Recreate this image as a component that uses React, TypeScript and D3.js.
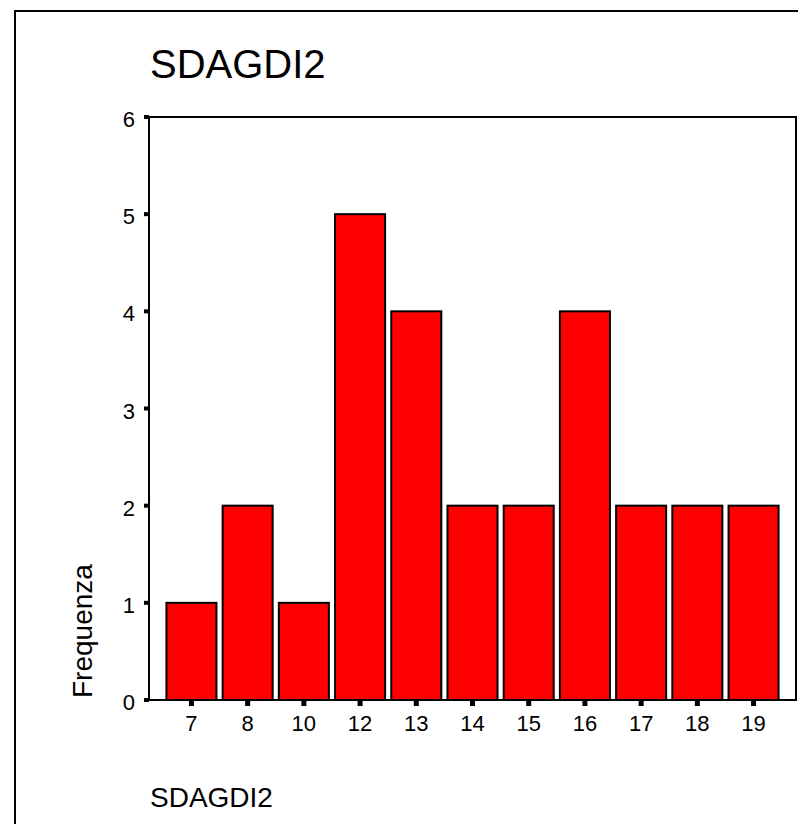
import React from "react";
import * as d3 from "d3";

const categories: string[] = ["7", "8", "10", "12", "13", "14", "15", "16", "17", "18", "19"];
const frequencies: number[] = [1, 2, 1, 5, 4, 2, 2, 4, 2, 2, 2];
const yTicks: number[] = [0, 1, 2, 3, 4, 5, 6];
const titleText = "SDAGDI2";
const xAxisLabel = "SDAGDI2";
const yAxisLabel = "Frequenza";

const W = 798;
const H = 824;
const plot = { left: 149, top: 117, right: 796, bottom: 700 };
const FONT = "'Liberation Sans', Arial, Helvetica, sans-serif";

export default function App() {
  const x = d3
    .scaleBand<string>()
    .domain(categories)
    .range([plot.left, plot.right])
    .paddingInner(0.11)
    .paddingOuter(0.31)
    .align(0.5);
  const y = d3.scaleLinear().domain([0, 6]).range([plot.bottom, plot.top]);

  return (
    <svg
      width={W}
      height={H}
      style={{ position: "absolute", left: 0, top: 0, background: "#fff" }}
      fontFamily={FONT}
    >
      <rect x={0} y={0} width={W} height={H} fill="#fff" />
      {/* outer frame */}
      <rect x={15} y={11} width={W + 20} height={H + 20} fill="none" stroke="#000" strokeWidth={2} />
      {/* title */}
      <text x={150} y={78} fontSize={40} fill="#000">
        {titleText}
      </text>
      {/* bars */}
      {categories.map((c, i) => (
        <rect
          key={c}
          x={x(c)!}
          y={y(frequencies[i])}
          width={x.bandwidth()}
          height={y(0) - y(frequencies[i])}
          fill="#ff0000"
          stroke="#000"
          strokeWidth={2}
        />
      ))}
      {/* plot frame */}
      <rect
        x={plot.left}
        y={plot.top}
        width={plot.right - plot.left}
        height={plot.bottom - plot.top}
        fill="none"
        stroke="#000"
        strokeWidth={2}
      />
      {/* y ticks */}
      {yTicks.map((t) => (
        <g key={t}>
          <rect x={plot.left - 5} y={y(t) - 2} width={5} height={4} fill="#000" />
          <text x={135} y={y(t) + 10} textAnchor="end" fontSize={22} fill="#000">
            {t}
          </text>
        </g>
      ))}
      {/* x ticks */}
      {categories.map((c) => {
        const cx = x(c)! + x.bandwidth() / 2;
        return (
          <g key={c}>
            <rect x={cx - 2.5} y={plot.bottom + 1} width={5} height={5} fill="#000" />
            <text x={cx} y={731} textAnchor="middle" fontSize={22} fill="#000">
              {c}
            </text>
          </g>
        );
      })}
      {/* axis labels */}
      <text
        transform={`translate(92,698) rotate(-90)`}
        textAnchor="start"
        fontSize={28}
        fill="#000"
      >
        {yAxisLabel}
      </text>
      <text x={150} y={807} fontSize={28} fill="#000">
        {xAxisLabel}
      </text>
    </svg>
  );
}
